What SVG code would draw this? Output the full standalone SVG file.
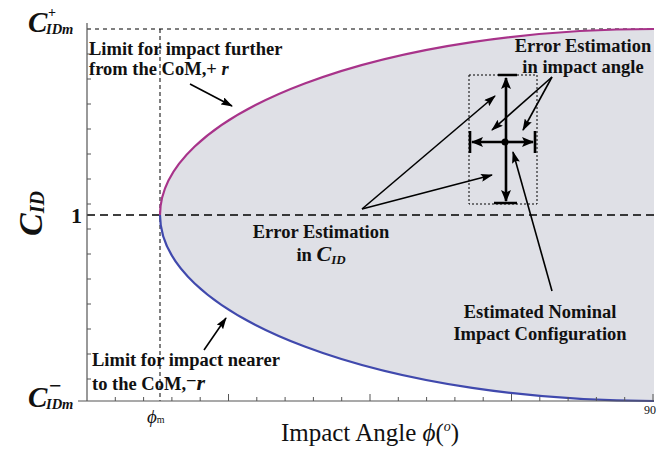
<svg xmlns="http://www.w3.org/2000/svg" width="672" height="449" viewBox="0 0 672 449">
<defs>
<marker id="ah" markerUnits="userSpaceOnUse" markerWidth="12" markerHeight="8" refX="11" refY="4" orient="auto"><path d="M0,0 L12,4 L0,8 L2,4 z" fill="#000"/></marker>
<marker id="ahb" markerUnits="userSpaceOnUse" markerWidth="12" markerHeight="10" refX="11" refY="5" orient="auto"><path d="M0,0 L12,5 L0,10 L2.5,5 z" fill="#000"/></marker>
</defs>
<style>
.ann{font-family:"Liberation Serif",serif;font-weight:bold;font-size:18.5px;fill:#111}
.ptr{stroke:#000;stroke-width:1.6;fill:none;marker-end:url(#ah)}
.bar{stroke:#000;stroke-width:2.6;fill:none}
.tick{stroke:#555;stroke-width:1}
.ax{font-family:"Liberation Serif",serif;fill:#111}
</style>
<g id="region">
<path d="M654,29 A494,186 0 0 0 160,215 A494,186 0 0 0 654,401 Z" fill="#dfe0e6"/>
</g>
<g id="guides" fill="none">
<line x1="87" y1="29" x2="654" y2="29" stroke="#000" stroke-width="1" stroke-dasharray="4,4"/>
<line x1="160" y1="29" x2="160" y2="401" stroke="#000" stroke-width="1" stroke-dasharray="4,3"/>
<line x1="87" y1="215" x2="654" y2="215" stroke="#000" stroke-width="1.5" stroke-dasharray="8,5"/>
</g>
<g id="curves" fill="none" stroke-width="2.2">
<path id="upper" d="M160,215 A494,186 0 0 1 654,29" stroke="#a8338a"/>
<path id="lower" d="M160,215 A494,186 0 0 0 654,401" stroke="#4049ad"/>
</g>
<g id="axes">
<line x1="87" y1="23" x2="87" y2="401" stroke="#555" stroke-width="1.2"/>
<line x1="78" y1="401" x2="654" y2="401" stroke="#555" stroke-width="1.2"/>
<g class="tick">
<path d="M87,54h4M87,79h4M87,104h4M87,129h4M87,154h4M87,179h4M87,204h4M87,229h4M87,254h4M87,279h4M87,304h4M87,329h4M87,354h4M87,379h4"/>
<path d="M115.3,401v-4M143.6,401v-4M171.9,401v-4M200.2,401v-4M228.5,401v-7M256.8,401v-4M285.1,401v-4M313.4,401v-4M341.7,401v-4M370,401v-7M398.3,401v-4M426.6,401v-4M454.9,401v-4M483.2,401v-4M511.5,401v-7M539.8,401v-4M568.1,401v-4M596.4,401v-4M624.7,401v-4M653,401v-7"/>
</g>
<text class="ax" x="28" y="32" font-weight="bold" font-style="italic" font-size="29">C</text>
<text class="ax" x="48" y="17" font-weight="bold" font-size="14">+</text>
<text class="ax" x="46" y="34" font-weight="bold" font-style="italic" font-size="14.5">IDm</text>
<text class="ax" x="28" y="407" font-weight="bold" font-style="italic" font-size="29">C</text>
<text class="ax" x="49" y="393" font-weight="bold" font-size="22">−</text>
<text class="ax" x="46" y="409" font-weight="bold" font-style="italic" font-size="14.5">IDm</text>
<text class="ax" x="82" y="223" text-anchor="end" font-weight="bold" font-size="22">1</text>
<text class="ax" transform="translate(42,236) rotate(-90)" font-weight="bold" font-style="italic" font-size="34">C<tspan font-size="20" dy="2">ID</tspan></text>
<text class="ax" x="147" y="423" font-style="italic" font-size="19">ϕ<tspan font-style="normal" font-size="10">m</tspan></text>
<text class="ax" x="650" y="414" text-anchor="middle" font-size="12">90</text>
<text class="ax" x="370" y="441" text-anchor="middle" font-size="25">Impact Angle <tspan font-style="italic">ϕ</tspan>(<tspan font-style="italic" font-size="14" dy="-10">o</tspan><tspan dy="10">)</tspan></text>
</g>
<g id="label-upper">
<text class="ann" x="89" y="55">Limit for impact further</text>
<text class="ann" x="89" y="75">from the CoM,+ <tspan font-style="italic">r</tspan></text>
</g>
<g id="label-lower">
<text class="ann" x="92" y="366">Limit for impact nearer</text>
<text class="ann" x="92" y="390">to the CoM,<tspan dy="-3">−</tspan><tspan dy="3" font-style="italic" font-size="22">r</tspan></text>
</g>
<g id="label-err-angle">
<text class="ann" x="583" y="52" text-anchor="middle">Error Estimation</text>
<text class="ann" x="583" y="73" text-anchor="middle">in impact angle</text>
</g>
<g id="label-err-cid">
<text class="ann" x="321" y="238" text-anchor="middle">Error Estimation</text>
<text class="ann" x="321" y="261" text-anchor="middle">in <tspan font-style="italic" font-size="22">C</tspan><tspan font-style="italic" font-size="13" dy="3">ID</tspan></text>
</g>
<g id="label-nominal">
<text class="ann" x="540" y="318" text-anchor="middle">Estimated Nominal</text>
<text class="ann" x="540" y="340" text-anchor="middle">Impact Configuration</text>
</g>
<g id="error-box">
<rect x="469" y="75" width="68" height="129" fill="none" stroke="#000" stroke-width="1" stroke-dasharray="2,2"/>
<path class="bar" d="M498,75h19M494,203h23M470,131v22M535,131v22" stroke-width="1.6"/>
<line class="bar" x1="506" y1="142" x2="506" y2="78" marker-end="url(#ahb)"/>
<line class="bar" x1="506" y1="142" x2="506" y2="201" marker-end="url(#ahb)"/>
<line class="bar" x1="506" y1="142" x2="472" y2="142" marker-end="url(#ahb)"/>
<line class="bar" x1="506" y1="142" x2="533" y2="142" marker-end="url(#ahb)"/>
<circle cx="505" cy="142" r="3.5" fill="#000"/>
</g>
<g id="connectors">
<line class="ptr" x1="190" y1="84" x2="232" y2="106"/>
<line class="ptr" x1="204" y1="350" x2="226" y2="318"/>
<line class="ptr" x1="552" y1="77" x2="492" y2="130"/>
<line class="ptr" x1="552" y1="77" x2="523" y2="130"/>
<line class="ptr" x1="362" y1="209" x2="495" y2="96"/>
<line class="ptr" x1="362" y1="209" x2="492" y2="175"/>
<line class="ptr" x1="552" y1="291" x2="513" y2="152"/>
</g>
</svg>
